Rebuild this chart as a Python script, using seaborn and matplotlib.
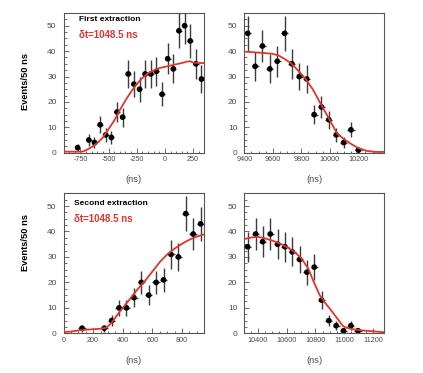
import numpy as np
import matplotlib
matplotlib.use("Agg")
import matplotlib.pyplot as plt
import seaborn as sns
from matplotlib.ticker import MultipleLocator, AutoMinorLocator

###############################################################################
# Data (bin centres in ns, counts per bin)
###############################################################################

# First extraction, leading edge
first_rise_t = [-775, -675, -625, -575, -525, -475, -425, -375, -325, -275, -225,
                -175, -125, -75, -25, 25, 75, 125, 175, 225, 275, 325]
first_rise_n = [2, 5, 4, 11, 7, 6, 16, 14, 31, 27, 25,
                31, 31, 32, 23, 37, 33, 48, 50, 44, 35, 29]
first_rise_fit_t = [-900, -850, -800, -750, -725, -700, -650, -600, -550, -500, -450,
                    -400, -350, -300, -250, -200, -150, -100, -50, 0, 50, 100,
                    150, 200, 225, 250, 300, 350]
first_rise_fit_n = [0.4, 0.4, 0.4, 0.4, 0.5, 1.0, 2.2, 3.8, 6.0, 9.3, 12.6,
                    16.8, 20.6, 24.0, 27.0, 29.4, 31.2, 32.4, 33.3, 33.8, 34.3, 34.8,
                    35.3, 35.9, 36.0, 35.5, 35.3, 35.3]

# First extraction, trailing edge
first_fall_t = [9424, 9476, 9527, 9579, 9631, 9683, 9734, 9786, 9838, 9890,
                9941, 9993, 10045, 10097, 10148, 10200]
first_fall_n = [47, 34, 42, 33, 36, 47, 35, 30, 29, 15, 18, 13, 7, 4, 9, 1]
first_fall_fit_t = [9400, 9450, 9500, 9550, 9600, 9640, 9680, 9730, 9780, 9830,
                    9880, 9940, 10000, 10050, 10100, 10150, 10200, 10260, 10320, 10380]
first_fall_fit_n = [39.8, 39.6, 39.4, 39.2, 38.9, 38.3, 37.0, 35.1, 32.2, 29.0,
                    25.0, 18.8, 12.8, 7.6, 5.3, 3.4, 1.8, 0.7, 0.3, 0.3]

# Second extraction, leading edge
second_rise_t = [125, 275, 325, 375, 425, 475, 525, 575, 625, 675, 725, 775, 825, 875, 925]
second_rise_n = [2, 2, 5, 10, 10, 14, 20, 15, 20, 21, 31, 30, 47, 39, 43]
second_rise_fit_t = [0, 50, 100, 150, 200, 250, 290, 325, 350, 375, 400, 425, 450,
                     475, 500, 525, 550, 600, 650, 700, 750, 800, 850, 900, 950]
second_rise_fit_n = [0.4, 0.7, 1.1, 1.4, 1.6, 1.8, 2.2, 4.2, 6.2, 8.2, 10.0, 11.8, 13.6,
                     15.5, 17.3, 19.0, 20.6, 24.3, 28.0, 31.0, 33.3, 35.2, 36.8, 38.0, 38.9]

# Second extraction, trailing edge
second_fall_t = [10328, 10384, 10433, 10486, 10537, 10588, 10639, 10690, 10741, 10792,
                 10843, 10894, 10945, 10996, 11047, 11097]
second_fall_n = [34, 39, 36, 39, 35, 34, 32, 29, 24, 26, 13, 5, 3, 1, 3, 1]
second_fall_fit_t = [10305, 10350, 10400, 10450, 10500, 10550, 10600, 10650, 10700,
                     10750, 10790, 10830, 10870, 10910, 10950, 10990, 11010, 11050,
                     11100, 11150, 11200, 11280]
second_fall_fit_n = [37.0, 37.6, 37.9, 37.3, 36.4, 35.4, 33.9, 32.2, 29.6,
                     25.5, 20.0, 15.0, 11.8, 9.0, 6.0, 3.0, 2.3, 1.7,
                     1.3, 1.0, 0.8, 0.4]

###############################################################################
# Style
###############################################################################
sns.set_theme(style="ticks")
plt.rcParams['font.family'] = ['Liberation Sans', 'DejaVu Sans']
plt.rcParams['axes.unicode_minus'] = False

RED = '#e3342a'
SPINE = '#555555'

fig = plt.figure(figsize=(4.23, 3.73), dpi=100)
W, H = 423, 373


def add_axes(left, top, right, bottom):
    return fig.add_axes([left / W, 1 - bottom / H, (right - left) / W, (bottom - top) / H])


ax1 = add_axes(63.5, 13, 204.3, 152.7)
ax2 = add_axes(244.3, 13, 384.3, 152.7)
ax3 = add_axes(63.5, 193.3, 204.3, 333.3)
ax4 = add_axes(244.3, 193.3, 384.3, 333.3)


def draw_panel(ax, t, n, fit_t, fit_n, xlim, major, minor_div):
    n = np.asarray(n, dtype=float)
    ax.errorbar(t, n, yerr=np.sqrt(n), xerr=25, fmt='none',
                ecolor='#3c3c3c', elinewidth=1.0, capsize=0, zorder=2)
    sns.scatterplot(x=t, y=n, ax=ax, color='black', s=17, edgecolor='none',
                    linewidth=0, zorder=3)
    sns.lineplot(x=fit_t, y=fit_n, ax=ax, color=RED, linewidth=1.3, zorder=4)

    ax.set_xlim(*xlim)
    ax.set_ylim(0, 55)
    ax.xaxis.set_major_locator(MultipleLocator(major))
    ax.xaxis.set_minor_locator(AutoMinorLocator(minor_div))
    ax.yaxis.set_major_locator(MultipleLocator(10))
    ax.yaxis.set_minor_locator(AutoMinorLocator(4))

    ax.tick_params(which='both', direction='in', color=SPINE, width=0.6,
                   top=False, right=False)
    ax.tick_params(which='major', length=3.5)
    ax.tick_params(which='minor', length=1.8)
    ax.tick_params(axis='x', labelsize=5.2, labelcolor='#4a4a4a', pad=2.5)
    ax.tick_params(axis='y', labelsize=6, labelcolor='#4a4a4a', pad=5)
    for sp in ax.spines.values():
        sp.set_visible(True)
        sp.set_color(SPINE)
        sp.set_linewidth(0.8)

    ax.set_xlabel("(ns)", fontsize=6.7, color='#4a4a4a', va='center')
    ax.xaxis.set_label_coords(0.5, -0.195)
    ax.set_ylabel("")


draw_panel(ax1, first_rise_t, first_rise_n, first_rise_fit_t, first_rise_fit_n,
           (-900, 350), 250, 5)
draw_panel(ax2, first_fall_t, first_fall_n, first_fall_fit_t, first_fall_fit_n,
           (9400, 10382), 200, 4)
draw_panel(ax3, second_rise_t, second_rise_n, second_rise_fit_t, second_rise_fit_n,
           (0, 950), 200, 4)
draw_panel(ax4, second_fall_t, second_fall_n, second_fall_fit_t, second_fall_fit_n,
           (10305, 11280), 200, 4)

# y labels on the left column
ax1.set_ylabel("Events/50 ns", fontsize=6.7, fontweight='bold', color='black')
ax1.yaxis.set_label_coords(-0.238, 0.508)
ax3.set_ylabel("Events/50 ns", fontsize=6.7, fontweight='bold', color='black')
ax3.yaxis.set_label_coords(-0.238, 0.652)

# annotations
ax1.text(0.112, 0.957, "First extraction", transform=ax1.transAxes,
         fontsize=6, fontweight='bold', color='black', va='center', ha='left')
ax1.text(0.112, 0.845, "δt=1048.5 ns", transform=ax1.transAxes,
         fontsize=7, fontweight='bold', color=RED, va='center', ha='left')
ax3.text(0.075, 0.924, "Second extraction", transform=ax3.transAxes,
         fontsize=6, fontweight='bold', color='black', va='center', ha='left')
ax3.text(0.075, 0.814, "δt=1048.5 ns", transform=ax3.transAxes,
         fontsize=7, fontweight='bold', color=RED, va='center', ha='left')

fig.savefig("out.png", dpi=100, facecolor='white')
